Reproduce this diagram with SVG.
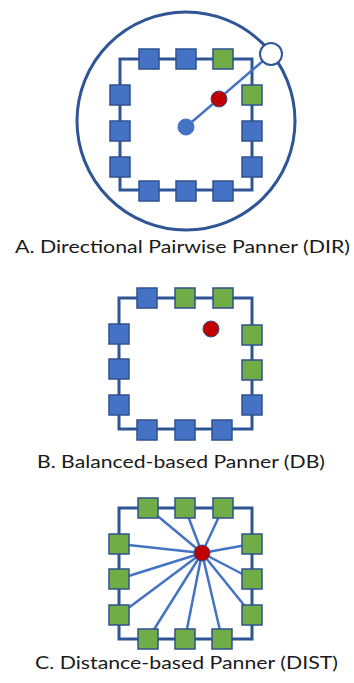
<svg xmlns="http://www.w3.org/2000/svg" width="354" height="683" viewBox="0 0 354 683">
<style>
.frame{fill:none;stroke:#2F5597;stroke-width:3}
.b{fill:#4472C4;stroke:#2F528F;stroke-width:1.5}
.g{fill:#70AD47;stroke:#2F528F;stroke-width:1.5}
.red{fill:#C00000;stroke:#2F528F;stroke-width:1}
.src{fill:#4472C4;stroke:#4472C4;stroke-width:1}
.wc{fill:#fff;stroke:#2F5597;stroke-width:2}
.conn{stroke:#4472C4;stroke-width:2.5;fill:none}
.lbl{font-family:Lato,"Open Sans","Liberation Sans",sans-serif;font-size:18px;fill:#1a1a1a;text-anchor:middle}
</style>
<defs>
<rect id="n" x="-10" y="-10" width="20" height="20"/>
</defs>
<!-- Diagram A -->
<g id="diagramA">
<circle cx="186" cy="121" r="109" fill="none" stroke="#2F5597" stroke-width="3"/>
<rect class="frame" x="120" y="59" width="132" height="131"/>
</g>
<g id="connectors">
<line class="conn" x1="186" y1="127" x2="271" y2="54" stroke-width="2"/>
<g id="connC">
<line class="conn" x1="202" y1="553" x2="148" y2="508"/>
<line class="conn" x1="202" y1="553" x2="185" y2="508"/>
<line class="conn" x1="202" y1="553" x2="223" y2="508"/>
<line class="conn" x1="202" y1="553" x2="119" y2="544"/>
<line class="conn" x1="202" y1="553" x2="119" y2="579"/>
<line class="conn" x1="202" y1="553" x2="119" y2="615"/>
<line class="conn" x1="202" y1="553" x2="252" y2="544"/>
<line class="conn" x1="202" y1="553" x2="252" y2="579"/>
<line class="conn" x1="202" y1="553" x2="252" y2="615"/>
<line class="conn" x1="202" y1="553" x2="148" y2="639"/>
<line class="conn" x1="202" y1="553" x2="185" y2="639"/>
<line class="conn" x1="202" y1="553" x2="222" y2="639"/>
</g>
</g>
<g id="A-nodes">
<g id="A-t1"><use href="#n" class="b" x="149" y="59"/></g>
<g id="A-t2"><use href="#n" class="b" x="186" y="59"/></g>
<g id="A-t3"><use href="#n" class="g" x="223" y="59"/></g>
<g id="A-l1"><use href="#n" class="b" x="120" y="95"/></g>
<g id="A-l2"><use href="#n" class="b" x="120" y="131"/></g>
<g id="A-l3"><use href="#n" class="b" x="120" y="167"/></g>
<g id="A-r1"><use href="#n" class="g" x="252" y="95"/></g>
<g id="A-r2"><use href="#n" class="b" x="252" y="131"/></g>
<g id="A-r3"><use href="#n" class="b" x="252" y="167"/></g>
<g id="A-b1"><use href="#n" class="b" x="149" y="191"/></g>
<g id="A-b2"><use href="#n" class="b" x="186" y="191"/></g>
<g id="A-b3"><use href="#n" class="b" x="223" y="191"/></g>
<g id="A-source"><circle class="red" cx="219" cy="99" r="8"/></g>
<g id="A-listener"><circle class="src" cx="186" cy="127" r="8"/></g>
<g id="A-virtual"><circle class="wc" cx="271" cy="54" r="11"/></g>
</g>
<text class="lbl" x="182.5" y="253" textLength="335" lengthAdjust="spacingAndGlyphs">A. Directional Pairwise Panner (DIR)</text>
<!-- Diagram B -->
<g id="diagramB">
<rect class="frame" x="119" y="298" width="133" height="131"/>
<g id="B-t1"><use href="#n" class="b" x="147" y="298"/></g>
<g id="B-t2"><use href="#n" class="g" x="185" y="298"/></g>
<g id="B-t3"><use href="#n" class="g" x="223" y="298"/></g>
<g id="B-l1"><use href="#n" class="b" x="119" y="334"/></g>
<g id="B-l2"><use href="#n" class="b" x="119" y="369"/></g>
<g id="B-l3"><use href="#n" class="b" x="119" y="405"/></g>
<g id="B-r1"><use href="#n" class="g" x="252" y="335"/></g>
<g id="B-r2"><use href="#n" class="g" x="252" y="370"/></g>
<g id="B-r3"><use href="#n" class="b" x="252" y="405"/></g>
<g id="B-b1"><use href="#n" class="b" x="147" y="430"/></g>
<g id="B-b2"><use href="#n" class="b" x="185" y="430"/></g>
<g id="B-b3"><use href="#n" class="b" x="222" y="430"/></g>
<g id="B-source"><circle class="red" cx="211" cy="329" r="8"/></g>
</g>
<text class="lbl" x="181" y="468" textLength="288" lengthAdjust="spacingAndGlyphs">B. Balanced-based Panner (DB)</text>
<!-- Diagram C -->
<g id="diagramC">
<rect class="frame" x="119" y="508" width="133" height="131"/>
<g id="C-t1"><use href="#n" class="g" x="148" y="508"/></g>
<g id="C-t2"><use href="#n" class="g" x="185" y="508"/></g>
<g id="C-t3"><use href="#n" class="g" x="223" y="508"/></g>
<g id="C-l1"><use href="#n" class="g" x="119" y="544"/></g>
<g id="C-l2"><use href="#n" class="g" x="119" y="579"/></g>
<g id="C-l3"><use href="#n" class="g" x="119" y="615"/></g>
<g id="C-r1"><use href="#n" class="g" x="252" y="544"/></g>
<g id="C-r2"><use href="#n" class="g" x="252" y="579"/></g>
<g id="C-r3"><use href="#n" class="g" x="252" y="615"/></g>
<g id="C-b1"><use href="#n" class="g" x="148" y="639"/></g>
<g id="C-b2"><use href="#n" class="g" x="185" y="639"/></g>
<g id="C-b3"><use href="#n" class="g" x="222" y="639"/></g>
<g id="C-source"><circle class="red" cx="202" cy="553" r="8"/></g>
</g>
<text class="lbl" x="186.5" y="669" textLength="303" lengthAdjust="spacingAndGlyphs">C. Distance-based Panner (DIST)</text>
</svg>
